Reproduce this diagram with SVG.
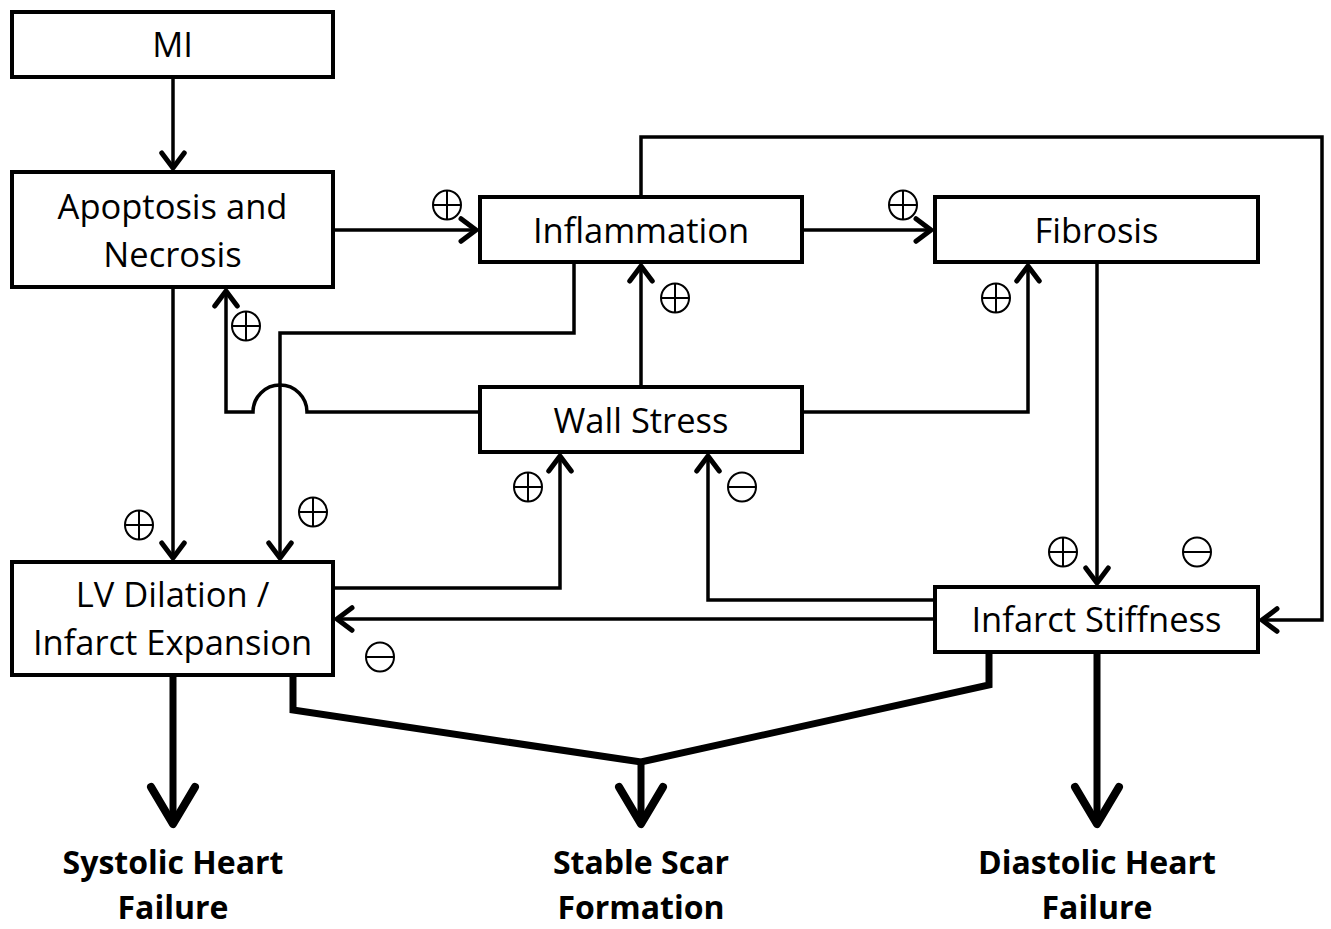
<svg xmlns="http://www.w3.org/2000/svg" width="1331" height="929" viewBox="0 0 1331 929">
<defs>
<style>
.box{fill:#fff;stroke:#000;stroke-width:4}
.lbl{font-family:"Open Sans","Liberation Sans",sans-serif;font-size:34.5px;text-anchor:middle;fill:#000}
.out{font-family:"Open Sans","Liberation Sans",sans-serif;font-size:32px;font-weight:bold;text-anchor:middle;fill:#000}
.ln{fill:none;stroke:#000;stroke-width:3.5;stroke-linejoin:miter}
.thk{fill:none;stroke:#000;stroke-width:7;stroke-linejoin:miter}
.sym{fill:none;stroke:#000;stroke-width:2}
</style>
<marker id="ah" markerUnits="userSpaceOnUse" markerWidth="30" markerHeight="30" viewBox="-16 -12 20 24" refX="0" refY="0" orient="auto">
<path d="M-12,-9 L0,0 L-12,9" fill="none" stroke="#000" stroke-width="4" stroke-linecap="round" stroke-linejoin="round"/>
</marker>
<marker id="thah" markerUnits="userSpaceOnUse" markerWidth="60" markerHeight="60" viewBox="-40 -26 46 52" refX="0" refY="0" orient="auto">
<path d="M-32,-19 L0,0 L-32,19" fill="none" stroke="#000" stroke-width="7" stroke-linecap="round" stroke-linejoin="round"/>
</marker>
<g id="plus"><ellipse cx="0" cy="0" rx="14" ry="14.5" class="sym"/><line x1="-14" y1="0" x2="14" y2="0" class="sym"/><line x1="0" y1="-14.5" x2="0" y2="14.5" class="sym"/></g>
<g id="minus"><ellipse cx="0" cy="0" rx="14" ry="14.5" class="sym"/><line x1="-14" y1="0" x2="14" y2="0" class="sym"/></g>
</defs>
<rect width="1331" height="929" fill="#fff"/>

<g id="connectors">
<path class="ln" d="M173,77 V168" marker-end="url(#ah)"/>
<path class="ln" d="M333,230 H476" marker-end="url(#ah)"/>
<path class="ln" d="M802,230 H931" marker-end="url(#ah)"/>
<path class="ln" d="M641,197 V137 H1322 V620 H1262" marker-end="url(#ah)"/>
<path class="ln" d="M574,262 V333 H280 V558" marker-end="url(#ah)"/>
<path class="ln" d="M173,287 V558" marker-end="url(#ah)"/>
<path class="ln" d="M480,412 H307 A27,27 0 0 0 253,412 H226 V291" marker-end="url(#ah)"/>
<path class="ln" d="M641,387 V266" marker-end="url(#ah)"/>
<path class="ln" d="M802,412 H1028 V266" marker-end="url(#ah)"/>
<path class="ln" d="M1097,262 V583" marker-end="url(#ah)"/>
<path class="ln" d="M333,588 H560 V456" marker-end="url(#ah)"/>
<path class="ln" d="M935,600 H708 V456" marker-end="url(#ah)"/>
<path class="ln" d="M935,619 H337" marker-end="url(#ah)"/>
<path class="thk" d="M173,675 V824" marker-end="url(#thah)"/>
<path class="thk" d="M293,675 V710 L641,762 L989,685 V652"/>
<path class="thk" d="M641,762 V824" marker-end="url(#thah)"/>
<path class="thk" d="M1097,652 V824" marker-end="url(#thah)"/>
</g>

<g id="signs">
<use href="#plus" x="447" y="205"/>
<use href="#plus" x="903" y="205"/>
<use href="#plus" x="675" y="298"/>
<use href="#plus" x="996" y="298"/>
<use href="#plus" x="246" y="326"/>
<use href="#plus" x="528" y="487"/>
<use href="#minus" x="742" y="487"/>
<use href="#plus" x="139" y="525"/>
<use href="#plus" x="313" y="512"/>
<use href="#plus" x="1063" y="552"/>
<use href="#minus" x="1197" y="552"/>
<use href="#minus" x="380" y="657"/>
</g>

<g id="node-mi"><rect class="box" x="12" y="12" width="321" height="65"/><text class="lbl" x="172.5" y="57">MI</text></g>
<g id="node-apoptosis"><rect class="box" x="12" y="172" width="321" height="115"/><text class="lbl" x="172.5" y="219">Apoptosis and</text><text class="lbl" x="172.5" y="267">Necrosis</text></g>
<g id="node-inflammation"><rect class="box" x="480" y="197" width="322" height="65"/><text class="lbl" x="641" y="243">Inflammation</text></g>
<g id="node-fibrosis"><rect class="box" x="935" y="197" width="323" height="65"/><text class="lbl" x="1096.5" y="243">Fibrosis</text></g>
<g id="node-wallstress"><rect class="box" x="480" y="387" width="322" height="65"/><text class="lbl" x="641" y="433">Wall Stress</text></g>
<g id="node-lv"><rect class="box" x="12" y="562" width="321" height="113"/><text class="lbl" x="172.5" y="607">LV Dilation /</text><text class="lbl" x="172.5" y="655">Infarct Expansion</text></g>
<g id="node-stiffness"><rect class="box" x="935" y="587" width="323" height="65"/><text class="lbl" x="1096.5" y="632">Infarct Stiffness</text></g>

<g id="out-systolic"><text class="out" x="173" y="874">Systolic Heart</text><text class="out" x="173" y="919">Failure</text></g>
<g id="out-scar"><text class="out" x="641" y="874">Stable Scar</text><text class="out" x="641" y="919">Formation</text></g>
<g id="out-diastolic"><text class="out" x="1097" y="874">Diastolic Heart</text><text class="out" x="1097" y="919">Failure</text></g>
</svg>
